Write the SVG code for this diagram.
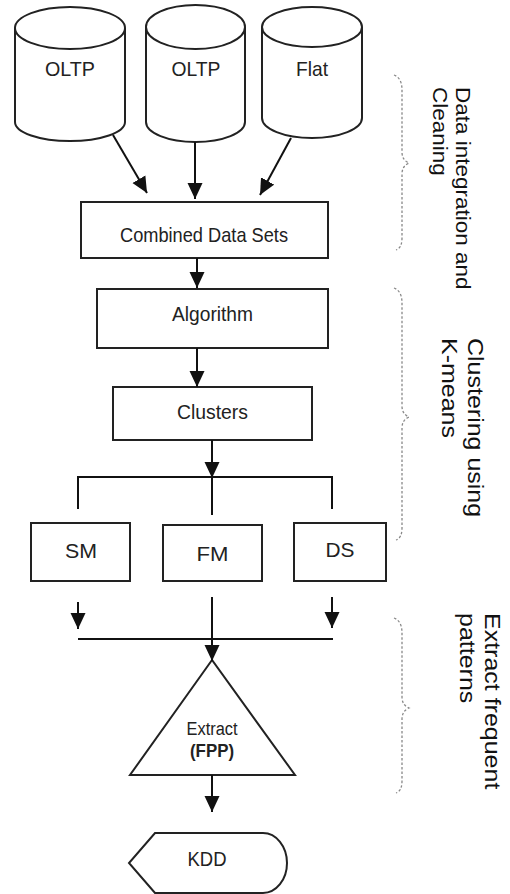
<svg xmlns="http://www.w3.org/2000/svg" width="510" height="894" viewBox="0 0 510 894">
<style>
.shape{fill:#fff;stroke:#222;stroke-width:2}
.line{fill:none;stroke:#111;stroke-width:2}
.brace{fill:none;stroke:#888;stroke-width:1.3;stroke-dasharray:2.5 2}
.t{font-family:"Liberation Sans",Arial,sans-serif;font-size:21px;fill:#222;text-anchor:middle}
.lab{font-family:"Liberation Sans",Arial,sans-serif;fill:#111}
</style>
<defs>
<marker id="ah" markerUnits="userSpaceOnUse" markerWidth="16" markerHeight="16" refX="16" refY="7.5" orient="auto" viewBox="0 0 16 15">
<path d="M0,0 L16,7.5 L0,15 z" fill="#111"/>
</marker>
</defs>
<rect width="510" height="894" fill="#fff"/>
<g id="cyl1">
<path class="shape" d="M15,28 V122 A55,19 0 0 0 125,122 V28"/>
<ellipse class="shape" cx="70" cy="28" rx="55" ry="21"/>
<text class="t" x="70" y="76" textLength="50" lengthAdjust="spacingAndGlyphs">OLTP</text>
</g>
<g id="cyl2">
<path class="shape" d="M146,27 V122 A49.5,20 0 0 0 245,122 V27"/>
<ellipse class="shape" cx="195.5" cy="27" rx="49.5" ry="22"/>
<text class="t" x="196" y="76" textLength="49" lengthAdjust="spacingAndGlyphs">OLTP</text>
</g>
<g id="cyl3">
<path class="shape" d="M262,27 V118 A50,20 0 0 0 362,118 V27"/>
<ellipse class="shape" cx="312" cy="27" rx="50" ry="20"/>
<text class="t" x="312" y="76" textLength="32" lengthAdjust="spacingAndGlyphs">Flat</text>
</g>
<g id="combined">
<rect class="shape" x="81" y="202" width="247" height="56"/>
<text class="t" x="204" y="242" textLength="168" lengthAdjust="spacingAndGlyphs">Combined Data Sets</text>
</g>
<g id="algorithm">
<rect class="shape" x="97" y="289" width="231" height="59"/>
<text class="t" x="212.5" y="321" textLength="81" lengthAdjust="spacingAndGlyphs">Algorithm</text>
</g>
<g id="clusters">
<rect class="shape" x="113" y="387" width="199" height="53"/>
<text class="t" x="212.5" y="419" textLength="71" lengthAdjust="spacingAndGlyphs">Clusters</text>
</g>
<g id="sm">
<rect class="shape" x="31" y="523" width="99" height="58"/>
<text class="t" x="81" y="558" textLength="32" lengthAdjust="spacingAndGlyphs">SM</text>
</g>
<g id="fm">
<rect class="shape" x="163" y="525" width="99" height="56"/>
<text class="t" x="212.5" y="561" textLength="32" lengthAdjust="spacingAndGlyphs">FM</text>
</g>
<g id="ds">
<rect class="shape" x="294" y="523" width="92" height="58"/>
<text class="t" x="340" y="557" textLength="29" lengthAdjust="spacingAndGlyphs">DS</text>
</g>
<g id="extract">
<polygon class="shape" points="212,660 130,775 295,775"/>
<text class="t" x="212" y="735" style="font-size:18px" textLength="51" lengthAdjust="spacingAndGlyphs">Extract</text>
<text class="t" x="212" y="757" style="font-size:18px;font-weight:bold" textLength="44" lengthAdjust="spacingAndGlyphs">(FPP)</text>
</g>
<g id="kdd">
<path class="shape" d="M155,833 H263 A24,30 0 0 1 263,893 H155 L129,863 Z"/>
<text class="t" x="207" y="866" style="font-size:20px" textLength="39" lengthAdjust="spacingAndGlyphs">KDD</text>
</g>
<g id="connectors">
<line class="line" x1="113" y1="135" x2="147" y2="193" marker-end="url(#ah)"/>
<line class="line" x1="195" y1="142" x2="195" y2="199" marker-end="url(#ah)"/>
<line class="line" x1="291" y1="138" x2="260" y2="195" marker-end="url(#ah)"/>
<line class="line" x1="197" y1="258" x2="197" y2="288" marker-end="url(#ah)"/>
<line class="line" x1="197" y1="348" x2="197" y2="387" marker-end="url(#ah)"/>
<line class="line" x1="212" y1="440" x2="212" y2="478" marker-end="url(#ah)"/>
<path class="line" d="M78,509 V477 H332 V509 M212,477 V515"/>
<line class="line" x1="78" y1="602" x2="78" y2="629" marker-end="url(#ah)"/>
<line class="line" x1="332" y1="597" x2="332" y2="628" marker-end="url(#ah)"/>
<line class="line" x1="78" y1="639" x2="333" y2="639"/>
<line class="line" x1="212" y1="597" x2="212" y2="661" marker-end="url(#ah)"/>
<line class="line" x1="212" y1="775" x2="212" y2="812" marker-end="url(#ah)"/>
</g>
<g id="braces">
<path class="brace" d="M394,75 Q402,78 402,90 V152 Q402,160 409,163 Q402,166 402,174 V238 Q402,248 396,250"/>
<path class="brace" d="M394,288 Q402,291 402,303 V406 Q402,414 409,417 Q402,420 402,428 V528 Q402,538 396,540"/>
<path class="brace" d="M394,618 Q402,621 402,633 V697 Q402,705 409,708 Q402,711 402,719 V781 Q402,791 396,793"/>
</g>
<g id="labels">
<text class="lab" style="font-size:22.5px" transform="translate(456,87) scale(0.88,1) rotate(90)">Data integration and</text>
<text class="lab" style="font-size:22.5px" transform="translate(433,87) scale(0.88,1) rotate(90)">Cleaning</text>
<text class="lab" style="font-size:25px" transform="translate(468,338) scale(0.88,1) rotate(90)">Clustering using</text>
<text class="lab" style="font-size:25px" transform="translate(442,338) scale(0.88,1) rotate(90)">K-means</text>
<text class="lab" style="font-size:25px" transform="translate(485,613) scale(0.88,1) rotate(90)">Extract frequent</text>
<text class="lab" style="font-size:25px" transform="translate(460,613) scale(0.88,1) rotate(90)">patterns</text>
</g>
</svg>
